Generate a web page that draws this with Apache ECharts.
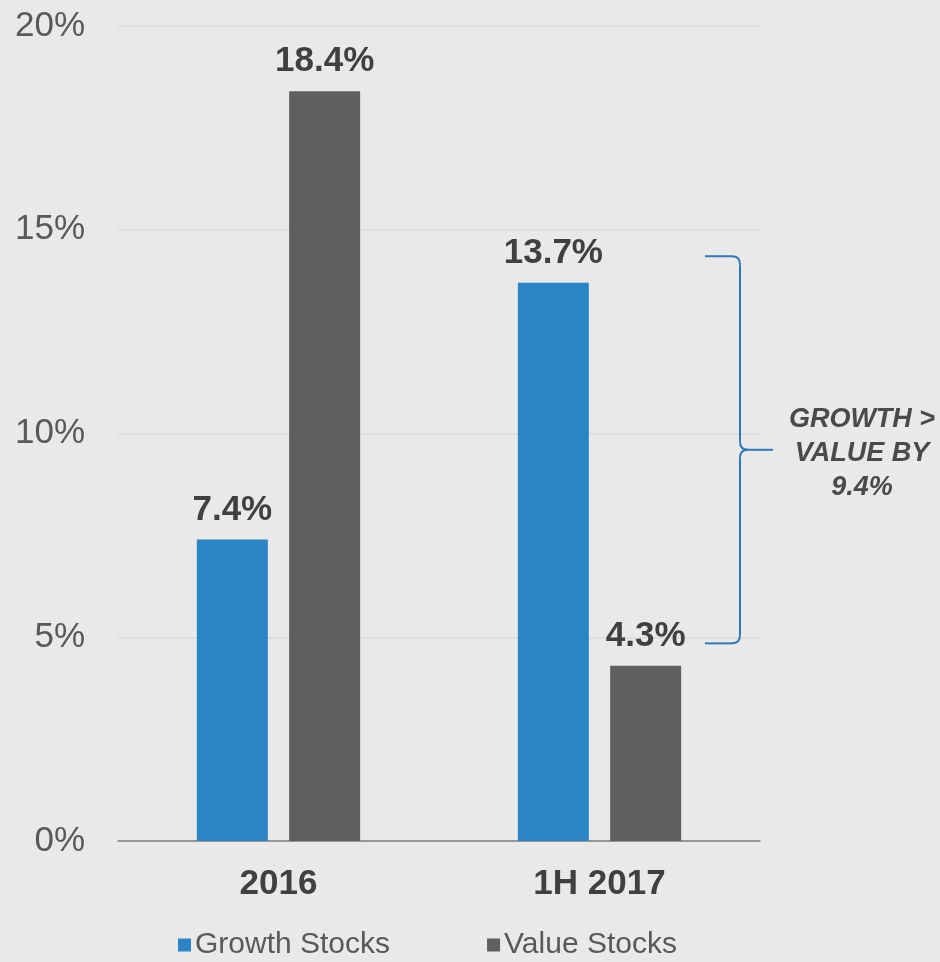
<!DOCTYPE html>
<html>
<head>
<meta charset="utf-8">
<script src="https://cdn.jsdelivr.net/npm/echarts@6/dist/echarts.min.js"></script>
<style>
  html, body { margin: 0; padding: 0; background: #e9e9e9; }
  #chart { width: 940px; height: 962px; }
</style>
</head>
<body>
<div id="chart"></div>
<script>
// Periods on the x axis
const categories = ['2016', '1H 2017'];
// Returns (%) by style
const growthStocks = [7.4, 13.7];
const valueStocks = [18.4, 4.3];
// Y axis ticks (%)
const yTicks = [0, 5, 10, 15, 20];
// Annotation: brace span (%) and its caption
const braceSpan = [4.85, 14.35];
const braceText = ['GROWTH >', 'VALUE BY', '9.4%'];

const FONT = '"Liberation Sans", Arial, sans-serif';
const BLUE = '#2a84c6';
const GRAY = '#5f5f5f';
const TEXT = '#404040';

const chart = echarts.init(document.getElementById('chart'));

const labelStyle = {
  show: true,
  position: 'top',
  distance: 12,
  formatter: p => p.value.toFixed(1) + '%',
  fontFamily: FONT,
  fontSize: 35,
  fontWeight: 'bold',
  color: TEXT
};

chart.setOption({
  backgroundColor: '#e9e9e9',
  animation: false,
  grid: { left: 118, right: 180, top: 26, bottom: 121 },
  legend: {
    left: 173,
    top: 925,
    itemWidth: 13,
    itemHeight: 13,
    itemGap: 97,
    icon: 'rect',
    textStyle: { fontFamily: FONT, fontSize: 30, color: '#595959', padding: [0, 0, 0, -1] },
    data: ['Growth Stocks', 'Value Stocks']
  },
  xAxis: {
    type: 'category',
    data: categories,
    axisLine: { lineStyle: { color: '#7f7f7f', width: 1.5 } },
    axisTick: { show: false },
    axisLabel: {
      margin: 26,
      fontFamily: FONT,
      fontSize: 35,
      fontWeight: 'bold',
      color: TEXT
    }
  },
  yAxis: {
    type: 'value',
    min: yTicks[0],
    max: yTicks[yTicks.length - 1],
    interval: yTicks[1] - yTicks[0],
    axisLine: { show: false },
    axisTick: { show: false },
    splitLine: { lineStyle: { color: '#dadada', width: 1.5 } },
    axisLabel: {
      margin: 33,
      fontFamily: FONT,
      fontSize: 35,
      color: '#595959',
      formatter: v => v + '%'
    }
  },
  series: [
    {
      name: 'Growth Stocks',
      type: 'bar',
      data: growthStocks,
      barWidth: 71,
      barGap: '30%',
      itemStyle: { color: BLUE },
      label: labelStyle
    },
    {
      name: 'Value Stocks',
      type: 'bar',
      data: valueStocks,
      barWidth: 71,
      barGap: '30%',
      itemStyle: { color: GRAY },
      label: labelStyle
    }
  ]
});

// Curly brace "}" beside the 1H 2017 bars, with its caption
function drawBrace() {
  const yTop = chart.convertToPixel({ yAxisIndex: 0 }, braceSpan[1]);
  const yBot = chart.convertToPixel({ yAxisIndex: 0 }, braceSpan[0]);
  const yMid = (yTop + yBot) / 2;
  const x0 = 705, xv = 740, xb = 773, r = 8;
  const stroke = { fill: null, stroke: '#2f78b8', lineWidth: 2 };
  const line = (x1, y1, x2, y2) => ({ type: 'line', shape: { x1, y1, x2, y2 }, style: stroke });
  const curve = (x1, y1, cpx1, cpy1, x2, y2) =>
    ({ type: 'bezierCurve', shape: { x1, y1, cpx1, cpy1, x2, y2 }, style: stroke });
  chart.setOption({
    graphic: [
      line(x0, yTop, xv - r, yTop),
      curve(xv - r, yTop, xv, yTop, xv, yTop + r),
      line(xv, yTop + r, xv, yMid - r),
      curve(xv, yMid - r, xv, yMid, xv + r, yMid),
      curve(xv, yMid + r, xv, yMid, xv + r, yMid),
      line(xv + r, yMid, xb, yMid),
      line(xv, yMid + r, xv, yBot - r),
      curve(xv, yBot - r, xv, yBot, xv - r, yBot),
      line(xv - r, yBot, x0, yBot),
      {
        type: 'text',
        x: 862,
        y: yMid + 4,
        style: {
          text: braceText.join('\n'),
          fontFamily: FONT,
          fontSize: 27,
          fontWeight: 'bold',
          fontStyle: 'italic',
          lineHeight: 34,
          fill: '#4a4a4a',
          align: 'center',
          verticalAlign: 'middle'
        }
      }
    ]
  });
}
drawBrace();
</script>
</body>
</html>
